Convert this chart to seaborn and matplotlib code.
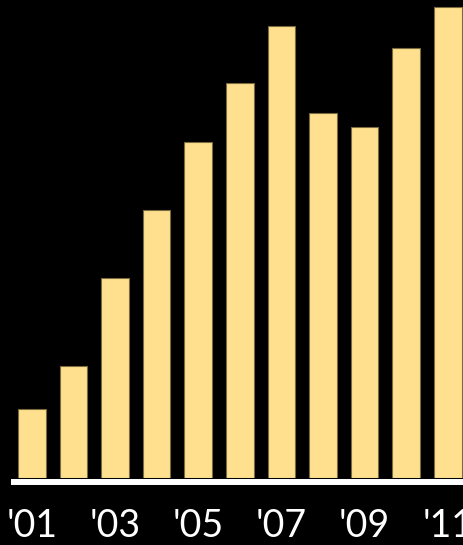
import matplotlib
matplotlib.use("Agg")
import matplotlib.pyplot as plt
import seaborn as sns
import pandas as pd

# values (bar heights, arbitrary units)
years = ["'01", "'02", "'03", "'04", "'05", "'06", "'07", "'08", "'09", "'10", "'11"]
values = [69, 112, 200, 268, 336, 395, 452, 365, 351, 430, 471]
tick_labels = ["'01", "'03", "'05", "'07", "'09", "'11"]

df = pd.DataFrame({"year": years, "value": values})

sns.set_style("dark")
plt.rcParams["font.family"] = ["Lato", "DejaVu Sans"]

fig = plt.figure(figsize=(4.64, 5.45), dpi=100, facecolor="black")
ax = fig.add_axes([0, 67 / 545, 1, 478 / 545])
ax.set_facecolor("black")

sns.barplot(data=df, x="year", y="value", color="#FFE08F", saturation=1,
            width=0.66, edgecolor="#7a6a40", linewidth=0.8, ax=ax)

ax.set_xlim(-0.764, 10.39)
ax.set_ylim(0, 478)
ax.set_xlabel("")
ax.set_ylabel("")
ax.set_yticks([])
ax.set_xticks(range(0, 11, 2))
ax.set_xticklabels(tick_labels)
ax.tick_params(axis="x", length=0, pad=19, labelsize=27, colors="white")
for lbl in ax.get_xticklabels():
    lbl.set_fontweight("light")
ax.grid(False)

for side in ["top", "left", "right"]:
    ax.spines[side].set_visible(False)
ax.spines["bottom"].set_visible(True)
ax.spines["bottom"].set_color("white")
ax.spines["bottom"].set_linewidth(4.3)
ax.spines["bottom"].set_position(("outward", 2.6))
ax.spines["bottom"].set_bounds(-0.5, 10.39)
ax.spines["bottom"].set_capstyle("butt")

fig.savefig("out.png", dpi=100, facecolor="black")
